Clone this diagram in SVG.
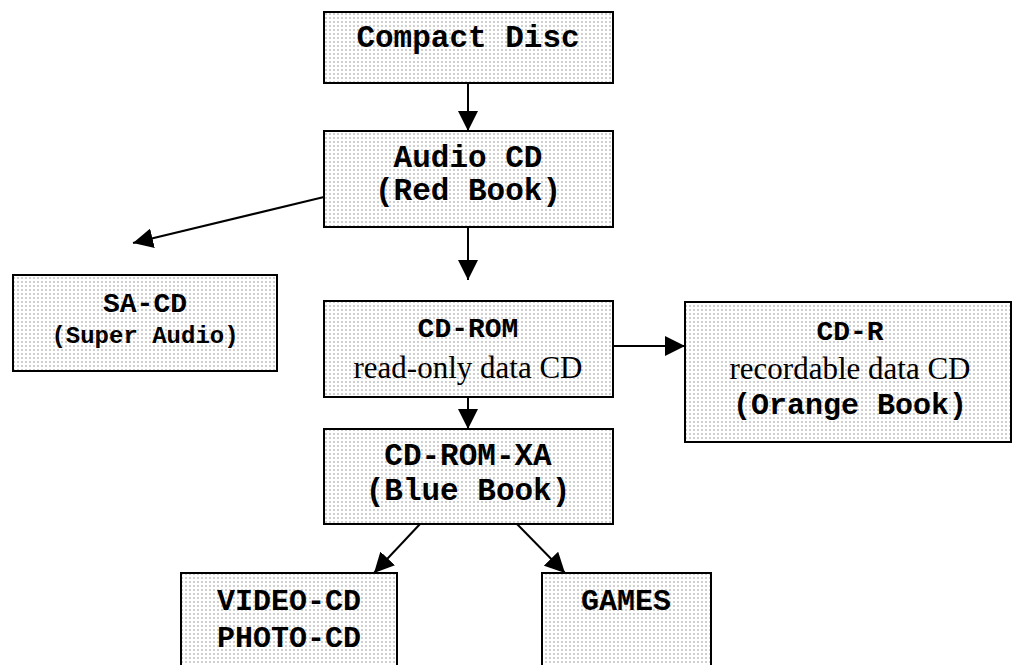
<svg xmlns="http://www.w3.org/2000/svg" width="1013" height="665" viewBox="0 0 1013 665">
<defs>
<pattern id="dots" patternUnits="userSpaceOnUse" width="4" height="4">
<rect width="4" height="4" fill="#ffffff"/>
<rect x="1" y="1" width="2" height="2" fill="#cfcfcf"/>
</pattern>
<marker id="ah" markerUnits="userSpaceOnUse" markerWidth="20" markerHeight="20" refX="20" refY="10" orient="auto">
<path d="M0,0 L20,10 L0,20 z" fill="#000"/>
</marker>
</defs>
<style>
.box{fill:url(#dots);stroke:#000;stroke-width:2}
.m{font-family:"Liberation Mono","Courier New",monospace;font-weight:bold;fill:#000;text-anchor:middle}
.s{font-family:"Liberation Serif","Times New Roman",serif;fill:#000;text-anchor:middle}
.c{stroke:#000;stroke-width:2;fill:none;marker-end:url(#ah)}
</style>
<rect width="1013" height="665" fill="#fff"/>
<g id="connectors">
<line class="c" x1="468" y1="83" x2="468" y2="131"/>
<line class="c" x1="324" y1="197" x2="133" y2="243"/>
<line class="c" x1="468" y1="227" x2="468" y2="280"/>
<line class="c" x1="613" y1="346" x2="685" y2="346"/>
<line class="c" x1="468" y1="389" x2="468" y2="429"/>
<line class="c" x1="420" y1="524" x2="374" y2="573"/>
<line class="c" x1="517" y1="524" x2="565" y2="573"/>
</g>
<g id="compact-disc">
<rect class="box" x="324" y="12" width="289" height="71"/>
<text class="m" x="468" y="47" font-size="31">Compact Disc</text>
</g>
<g id="audio-cd">
<rect class="box" x="324" y="131" width="289" height="96"/>
<text class="m" x="468" y="167" font-size="31">Audio CD</text>
<text class="m" x="468" y="200" font-size="31">(Red Book)</text>
</g>
<g id="sa-cd">
<rect class="box" x="13" y="275" width="264" height="96"/>
<text class="m" x="145" y="312" font-size="28">SA-CD</text>
<text class="m" x="145" y="343" font-size="24">(Super Audio)</text>
</g>
<g id="cd-rom">
<rect class="box" x="324" y="301" width="289" height="96"/>
<text class="m" x="468" y="337" font-size="28">CD-ROM</text>
<text class="s" x="468" y="378" font-size="31">read-only data CD</text>
</g>
<g id="cd-r">
<rect class="box" x="685" y="302" width="326" height="140"/>
<text class="m" x="850" y="340" font-size="28">CD-R</text>
<text class="s" x="850" y="379" font-size="31">recordable data CD</text>
<text class="m" x="850" y="414" font-size="30">(Orange Book)</text>
</g>
<g id="cd-rom-xa">
<rect class="box" x="324" y="429" width="289" height="95"/>
<text class="m" x="468" y="465" font-size="31">CD-ROM-XA</text>
<text class="m" x="468" y="500" font-size="31">(Blue Book)</text>
</g>
<g id="video-photo-cd">
<rect class="box" x="181" y="573" width="216" height="100"/>
<text class="m" x="289" y="610" font-size="30">VIDEO-CD</text>
<text class="m" x="289" y="647" font-size="30">PHOTO-CD</text>
</g>
<g id="games">
<rect class="box" x="542" y="573" width="169" height="100"/>
<text class="m" x="626" y="610" font-size="30">GAMES</text>
</g>
</svg>
